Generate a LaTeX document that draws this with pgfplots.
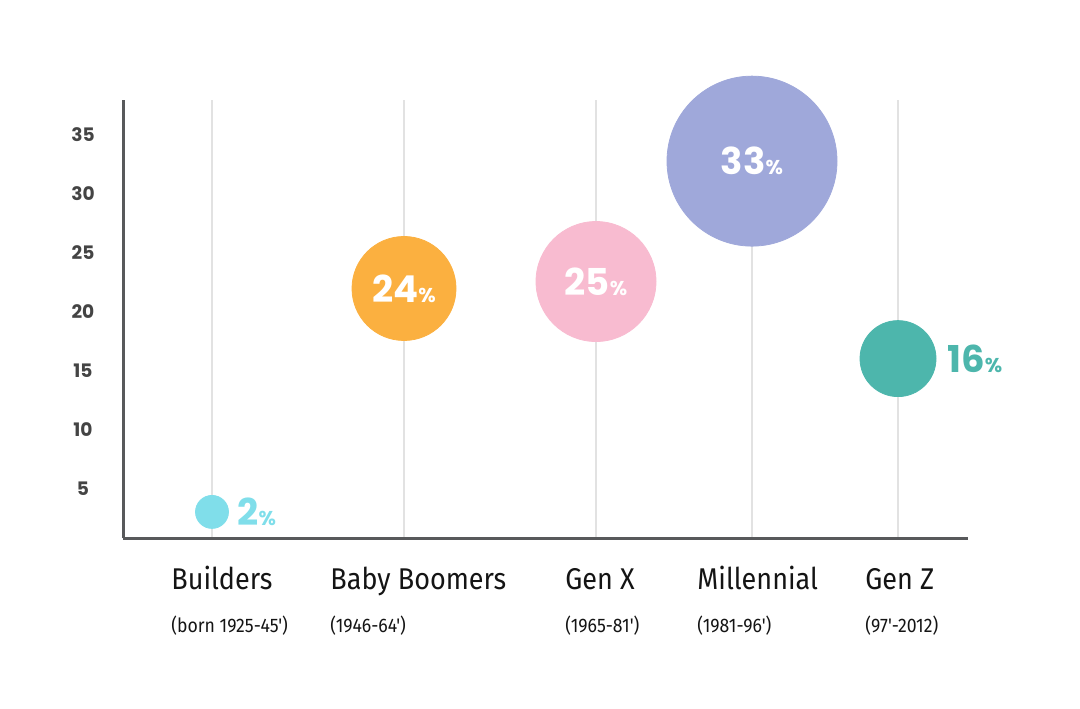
\documentclass[border=0pt]{standalone}
\usepackage{fontspec}
\setmainfont{Poppins}
\newfontfamily\condfont{Fira Sans}[FakeStretch=0.9]
\newfontfamily\condnarrow{Fira Sans}[FakeStretch=0.9]
\usepackage{pgfplots}
\pgfplotsset{compat=1.18}

\definecolor{cBuild}{HTML}{80DEEA}
\definecolor{cBoom}{HTML}{FBB040}
\definecolor{cGenX}{HTML}{F8BBD0}
\definecolor{cMill}{HTML}{9FA8DA}
\definecolor{cGenZ}{HTML}{4DB6AC}
\definecolor{axisgrey}{HTML}{58595B}
\definecolor{tickgrey}{HTML}{444444}
\definecolor{gridgrey}{HTML}{E2E2E2}

\newcommand{\pct}[1]{{\fontsize{18.5}{20}\selectfont\bfseries #1}{\fontsize{10}{12}\selectfont\bfseries\%}}

\begin{document}
\begin{tikzpicture}
\useasboundingbox (0pt,0pt) rectangle (540pt,354pt);
\begin{axis}[
  at={(61.5pt,85pt)}, anchor=south west,
  scale only axis, width=422.5pt, height=219pt,
  xmin=0, xmax=845, ymin=0.84, ymax=37.95,
  clip=false,
  axis x line=bottom, axis y line=left,
  axis line style={-, line width=1.5pt, color=axisgrey},
  xtick={89,281,473,629,775}, xticklabels={},
  xmajorgrids, major grid style={line width=0.75pt, color=gridgrey},
  ytick={5,10,15,20,25,30,35},
  major tick length=0pt,
  /pgf/number format/assume math mode=true,
  yticklabel style={anchor=center, xshift=-20pt, text=tickgrey,
    font=\fontsize{9.3}{10}\selectfont\bfseries},
  every node near coord/.append style={inner sep=0pt},
]
\addplot[only marks, mark=*, mark size=8.25pt, color=cBuild, mark options={fill=cBuild},
  nodes near coords={\pct{2}},
  every node near coord/.append style={anchor=west, xshift=12.5pt, text=cBuild}]
  coordinates {(89,3.05)};
\addplot[only marks, mark=*, mark size=26pt, color=cBoom, mark options={fill=cBoom},
  nodes near coords={\pct{24}},
  every node near coord/.append style={anchor=center, text=white}]
  coordinates {(281,21.98)};
\addplot[only marks, mark=*, mark size=30pt, color=cGenX, mark options={fill=cGenX},
  nodes near coords={\pct{25}},
  every node near coord/.append style={anchor=center, text=white}]
  coordinates {(473,22.57)};
\addplot[only marks, mark=*, mark size=42.5pt, color=cMill, mark options={fill=cMill},
  nodes near coords={\pct{33}},
  every node near coord/.append style={anchor=center, text=white}]
  coordinates {(629,32.77)};
\addplot[only marks, mark=*, mark size=19pt, color=cGenZ, mark options={fill=cGenZ},
  nodes near coords={\pct{16}},
  every node near coord/.append style={anchor=west, xshift=24.5pt, text=cGenZ}]
  coordinates {(775,16.04)};
\end{axis}

\begin{scope}[every node/.style={inner sep=0pt, text=black!92}]
\foreach \x/\name/\sub in {
  85.5/Builders/{(born 1925-45')},
  165/Baby Boomers/{(1946-64')},
  282.5/Gen X/{(1965-81')},
  348.5/Millennial/{(1981-96')},
  432.5/Gen Z/{(97'-2012)}}{
  \node[anchor=base west] at (\x pt,59.5pt) {\condfont\fontsize{15}{16}\selectfont \name};
  \node[anchor=base west] at (\x pt,38pt) {\condnarrow\fontsize{9.8}{11}\selectfont \sub};
}
\end{scope}
\end{tikzpicture}
\end{document}
